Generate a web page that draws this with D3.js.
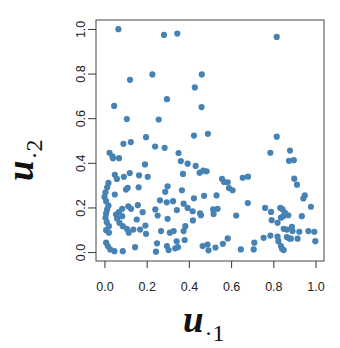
<!DOCTYPE html>
<html>
<head>
<meta charset="utf-8">
<script src="https://cdn.jsdelivr.net/npm/d3@7"></script>
<style>
  body { margin: 0; background: #fff; }
</style>
</head>
<body>
<svg class="scatterplot"></svg>
<script>
const width = 340;
const height = 348;

// data (u1, u2 pairs)
const u1 = [
  0.066, 0.282, 0.345, 0.816, 0.121, 0.227, 0.461, 0.428, 0.296, 0.046,
  0.460, 0.106, 0.257, 0.197, 0.424, 0.490, 0.816, 0.090, 0.125, 0.240,
  0.285, 0.024, 0.038, 0.040, 0.069, 0.351, 0.362, 0.394, 0.432, 0.451,
  0.468, 0.484, 0.372, 0.192, 0.049, 0.059, 0.092, 0.120, 0.164, 0.205,
  0.557, 0.655, 0.680, 0.786, 0.879, 0.874, 0.897, 0.899, 0.567, 0.584,
  0.590, 0.607, 0.912, 0.949, 0.942, 0.019, 0.013, 0.005, 0.000, 0.049,
  0.102, 0.110, 0.162, 0.288, 0.299, 0.367, 0.424, 0.472, 0.531, 0.263,
  0.679, 0.008, 0.019, 0.013, 0.008, 0.005, 0.011, 0.021, 0.008, 0.021,
  0.008, 0.016, 0.027, 0.047, 0.087, 0.145, 0.055, 0.068, 0.084, 0.113,
  0.126, 0.158, 0.181, 0.060, 0.084, 0.071, 0.087, 0.106, 0.115, 0.137,
  0.153, 0.169, 0.194, 0.197, 0.241, 0.252, 0.295, 0.299, 0.268, 0.310,
  0.249, 0.244, 0.296, 0.304, 0.325, 0.343, 0.375, 0.394, 0.418, 0.453,
  0.457, 0.515, 0.536, 0.517, 0.624, 0.419, 0.328, 0.375, 0.383, 0.342,
  0.380, 0.335, 0.348, 0.465, 0.488, 0.493, 0.526, 0.561, 0.584, 0.646,
  0.761, 0.789, 0.833, 0.844, 0.855, 0.871, 0.847, 0.836, 0.820, 0.792,
  0.935, 0.978, 0.849, 0.864, 0.888, 0.891, 0.923, 0.966, 0.994, 0.999,
  0.754, 0.786, 0.820, 0.824, 0.864, 0.876, 0.883, 0.915, 0.710, 0.707,
  0.836, 0.841, 0.849
];
const u2 = [
  0.999, 0.973, 0.979, 0.964, 0.772, 0.796, 0.796, 0.738, 0.685, 0.655,
  0.650, 0.596, 0.594, 0.515, 0.522, 0.530, 0.517, 0.485, 0.493, 0.473,
  0.467, 0.445, 0.429, 0.420, 0.421, 0.444, 0.408, 0.396, 0.386, 0.356,
  0.365, 0.362, 0.350, 0.393, 0.346, 0.328, 0.337, 0.354, 0.344, 0.337,
  0.328, 0.333, 0.338, 0.445, 0.455, 0.409, 0.412, 0.329, 0.314, 0.313,
  0.287, 0.277, 0.302, 0.254, 0.240, 0.310, 0.290, 0.268, 0.247, 0.258,
  0.280, 0.288, 0.290, 0.270, 0.295, 0.277, 0.241, 0.252, 0.254, 0.232,
  0.220, 0.228, 0.208, 0.191, 0.173, 0.154, 0.134, 0.116, 0.098, 0.087,
  0.042, 0.027, 0.012, 0.004, 0.004, 0.022, 0.168, 0.179, 0.194, 0.205,
  0.194, 0.210, 0.179, 0.150, 0.161, 0.131, 0.116, 0.104, 0.087, 0.101,
  0.146, 0.101, 0.119, 0.082, 0.191, 0.164, 0.223, 0.149, 0.094, 0.087,
  0.039, 0.002, 0.027, 0.009, 0.228, 0.188, 0.217, 0.198, 0.183, 0.173,
  0.165, 0.191, 0.194, 0.171, 0.164, 0.142, 0.094, 0.094, 0.116, 0.048,
  0.054, 0.017, 0.022, 0.027, 0.034, 0.008, 0.020, 0.037, 0.061, 0.012,
  0.198, 0.180, 0.198, 0.191, 0.176, 0.165, 0.161, 0.154, 0.131, 0.143,
  0.161, 0.203, 0.104, 0.101, 0.113, 0.094, 0.091, 0.094, 0.091, 0.049,
  0.064, 0.074, 0.069, 0.049, 0.067, 0.061, 0.060, 0.060, 0.042, 0.012,
  0.027, 0.015, 0.009
];
const tickValues = [0, 0.2, 0.4, 0.6, 0.8, 1.0];

// plot box
const box = { left: 96, right: 324, top: 20, bottom: 261 };

const svg = d3.select('.scatterplot')
    .attr('width', width)
    .attr('height', height);

// scales, R style 4% padding
const xScale = d3.scaleLinear()
    .domain([-0.04, 1.04])
    .range([box.left, box.right]);

const yScale = d3.scaleLinear()
    .domain([-0.04, 1.04])
    .range([box.bottom, box.top]);

// xAxis
const xAxis = d3.axisBottom(xScale)
    .tickValues(tickValues)
    .tickSize(7)
    .tickPadding(14)
    .tickFormat(d3.format('.1f'));

const gx = svg.append('g')
    .attr('transform', `translate(0,${box.bottom})`)
    .call(xAxis);
gx.select('.domain').remove();
gx.selectAll('line').attr('stroke', '#333');
gx.selectAll('text')
    .attr('font-family', 'Liberation Sans, Arial, sans-serif')
    .attr('font-size', 12.5)
    .attr('fill', '#222');

// yAxis, labels turned like base R
const yAxis = d3.axisLeft(yScale)
    .tickValues(tickValues)
    .tickSize(8)
    .tickFormat(d3.format('.1f'));

const gy = svg.append('g')
    .attr('transform', `translate(${box.left},0)`)
    .call(yAxis);
gy.select('.domain').remove();
gy.selectAll('line').attr('stroke', '#333');
gy.selectAll('text')
    .attr('x', 0)
    .attr('y', -11)
    .attr('dy', null)
    .attr('text-anchor', 'middle')
    .attr('transform', 'rotate(-90)')
    .attr('font-family', 'Liberation Sans, Arial, sans-serif')
    .attr('font-size', 12.5)
    .attr('fill', '#222');

// box
svg.append('rect')
    .attr('x', box.left)
    .attr('y', box.top)
    .attr('width', box.right - box.left)
    .attr('height', box.bottom - box.top)
    .attr('fill', 'none')
    .attr('stroke', '#444')
    .attr('stroke-width', 1);

// dots
svg.selectAll('circle.dot')
    .data(u1.map((d, i) => [d, u2[i]]))
    .enter()
    .append('circle')
    .attr('class', 'dot')
    .attr('cx', d => xScale(d[0]))
    .attr('cy', d => yScale(d[1]))
    .attr('r', 3.1)
    .attr('fill', '#4682B4');

// axis titles u.1 and u.2
function mathLabel(g, sub){
    const t = g.append('text')
        .attr('font-family', 'Liberation Serif, Times New Roman, serif')
        .attr('fill', '#111');
    t.append('tspan')
        .attr('font-size', 37)
        .attr('font-style', 'italic')
        .attr('font-weight', 'bold')
        .text('u');
    t.append('tspan')
        .attr('font-size', 24)
        .attr('dy', 9)
        .attr('dx', 1)
        .text('\u00B7' + sub);
    return t;
}

mathLabel(svg.append('g').attr('transform', 'translate(183,332)'), '1');
mathLabel(svg.append('g').attr('transform', 'translate(33,181) rotate(-90)'), '2');
</script>
</body>
</html>
